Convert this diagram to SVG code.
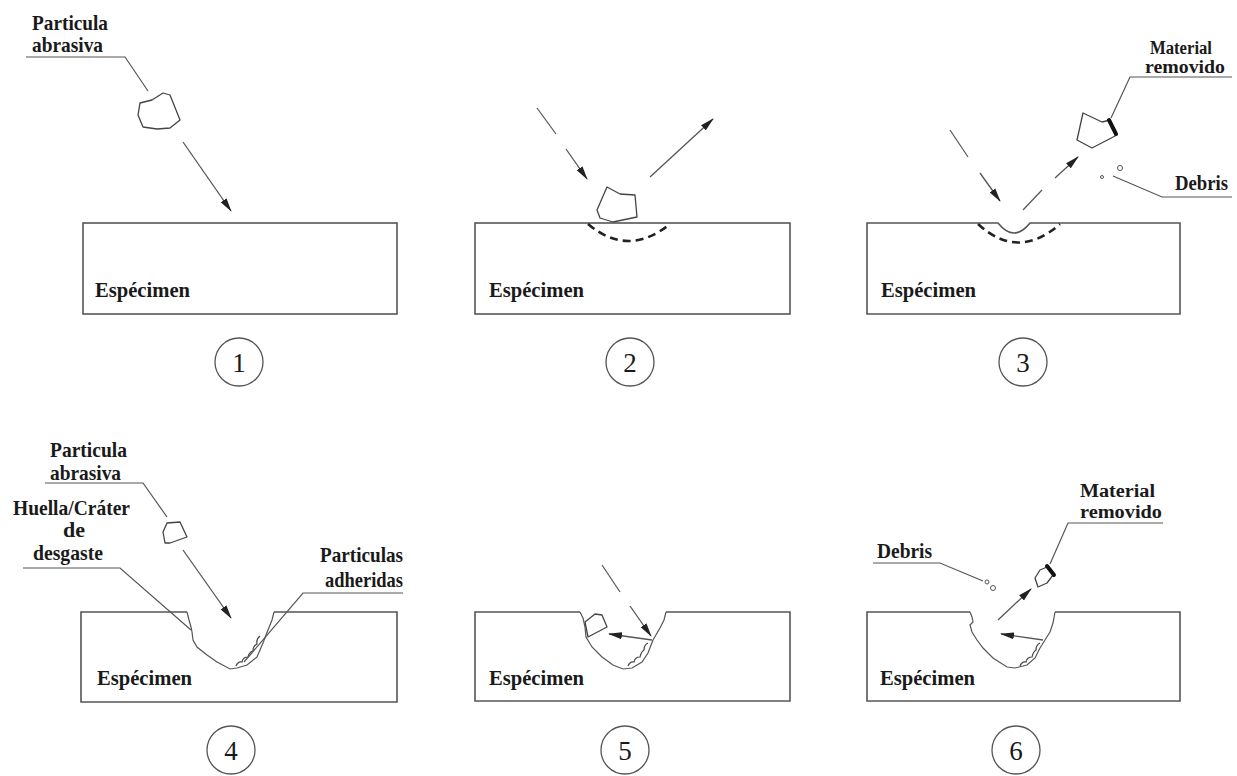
<svg xmlns="http://www.w3.org/2000/svg" width="1237" height="776" viewBox="0 0 1237 776">
  <defs>
    <marker id="head" markerUnits="userSpaceOnUse" markerWidth="14" markerHeight="8" viewBox="0 0 14 8" refX="13" refY="4" orient="auto">
      <path d="M0,0.5 L14,4 L0,7.5 Z" fill="#222"/>
    </marker>
  </defs>
  <style>
    .box { fill: none; stroke: #555; stroke-width: 1.6; }
    .ln { fill: none; stroke: #555; stroke-width: 1.2; }
    .thin { fill: none; stroke: #555; stroke-width: 1; }
    .bump { fill: none; stroke: #444; stroke-width: 1.2; }
    .arr { fill: none; stroke: #555; stroke-width: 1.3; marker-end: url(#head); }
    .part { fill: #fff; stroke: #444; stroke-width: 1.3; stroke-linejoin: round; }
    .zone { fill: none; stroke: #222; stroke-width: 2.6; stroke-dasharray: 8 5; }
    .chip { fill: none; stroke: #111; stroke-width: 4; stroke-linecap: round; }
    .lbl { font-family: "Liberation Serif", "Times New Roman", serif; font-weight: bold; font-size: 21px; fill: #1a1a1a; }
    .lbs { font-family: "Liberation Serif", "Times New Roman", serif; font-weight: bold; font-size: 18px; fill: #1a1a1a; }
    .spec { font-family: "Liberation Serif", "Times New Roman", serif; font-weight: bold; font-size: 20px; fill: #1a1a1a; }
    .num { font-family: "Liberation Serif", "Times New Roman", serif; font-size: 27px; fill: #1a1a1a; text-anchor: middle; }
    .ring { fill: none; stroke: #555; stroke-width: 1.3; }
  </style>

  <!-- Stage 1: particle approaching the surface -->
  <g id="stage1">
    <rect class="box" x="83" y="223" width="314" height="91"/>
    <text class="spec" x="95" y="297" textLength="95" lengthAdjust="spacingAndGlyphs">Espécimen</text>
    <text class="lbl" x="32" y="30" textLength="76" lengthAdjust="spacingAndGlyphs">Particula</text>
    <text class="lbl" x="32" y="52" textLength="71" lengthAdjust="spacingAndGlyphs">abrasiva</text>
    <polyline class="ln" points="26,57 125,57 148,91"/>
    <polygon class="part" points="140,103 152,100 163,93 170,95 180,120 170,128 157,129 143,127 138,115"/>
    <circle class="ring" cx="239" cy="362" r="24"/>
    <text class="num" x="239" y="372">1</text>
  </g>

  <!-- Stage 2: impact and deformation zone -->
  <g id="stage2">
    <rect class="box" x="475" y="223" width="315" height="91"/>
    <text class="spec" x="489" y="297" textLength="95" lengthAdjust="spacingAndGlyphs">Espécimen</text>
    <path class="zone" d="M588,224 Q628,258 670,224"/>
    <polygon class="part" points="607,187 620,194 635,195 637,217 613,222 600,218 597,210"/>
    <circle class="ring" cx="630" cy="362" r="24"/>
    <text class="num" x="630" y="372">2</text>
  </g>

  <!-- Stage 3: material removal and debris -->
  <g id="stage3">
    <path class="box" d="M867,223 H998 Q1014,243 1030,223 H1180 V314 H867 Z"/>
    <text class="spec" x="881" y="297" textLength="95" lengthAdjust="spacingAndGlyphs">Espécimen</text>
    <path class="zone" d="M978,224 Q1018,261 1060,224"/>
    <polygon class="part" points="1083,113 1102,122 1110,120 1117,135 1092,148 1077,140"/>
    <path class="chip" d="M1109,120 L1116,134"/>
    <circle class="thin" cx="1120" cy="168" r="2.5"/>
    <circle class="thin" cx="1102" cy="177" r="1.5"/>
    <text class="lbs" x="1150" y="54" textLength="62" lengthAdjust="spacingAndGlyphs">Material</text>
    <text class="lbs" x="1145" y="73" textLength="80" lengthAdjust="spacingAndGlyphs">removido</text>
    <polyline class="ln" points="1111,118 1130,77 1232,77"/>
    <text class="lbl" x="1175" y="190" textLength="53" lengthAdjust="spacingAndGlyphs">Debris</text>
    <polyline class="ln" points="1113,176 1162,197 1232,197"/>
    <circle class="ring" cx="1023" cy="362" r="24"/>
    <text class="num" x="1023" y="372">3</text>
  </g>

  <!-- Stage 4: wear crater with adhered particles -->
  <g id="stage4">
    <path class="box" d="M187,612 H81 V702 H397 V612 H274"/>
    <path class="ln" d="M187,612 L189,620 L191,627 L192,632 L193,640 L197,647 L207,655 L217,662 L230,669 L237,668 L247,665 L257,657 L263,643 L268,630 L272,620 L274,612"/>
    <path class="bump" d="M236,666 q2,-5 6,-4 q1,-5 6,-5 q1,-5 5,-6 q0,-5 4,-7 q-1,-5 3,-8"/>
    <text class="spec" x="97" y="685" textLength="95" lengthAdjust="spacingAndGlyphs">Espécimen</text>
    <text class="lbl" x="50" y="457" textLength="77" lengthAdjust="spacingAndGlyphs">Particula</text>
    <text class="lbl" x="50" y="480" textLength="71" lengthAdjust="spacingAndGlyphs">abrasiva</text>
    <polyline class="ln" points="45,483 143,483 167,517"/>
    <polygon class="part" points="163,532 167,523 180,522 187,537 170,543 165,543"/>
    <text class="lbl" x="13" y="515" textLength="117" lengthAdjust="spacingAndGlyphs">Huella/Cráter</text>
    <text class="lbl" x="63" y="537" textLength="22" lengthAdjust="spacingAndGlyphs">de</text>
    <text class="lbl" x="33" y="560" textLength="70" lengthAdjust="spacingAndGlyphs">desgaste</text>
    <polyline class="ln" points="23,568 120,568 191,630"/>
    <text class="lbl" x="320" y="562" textLength="83" lengthAdjust="spacingAndGlyphs">Particulas</text>
    <text class="lbl" x="325" y="587" textLength="78" lengthAdjust="spacingAndGlyphs">adheridas</text>
    <polyline class="ln" points="403,593 303,593 244,662"/>
    <circle class="ring" cx="231" cy="750" r="24"/>
    <text class="num" x="231" y="760">4</text>
  </g>

  <!-- Stage 5: particle trapped in the crater -->
  <g id="stage5">
    <path class="box" d="M580,612 H475 V701 H790 V612 H666"/>
    <path class="ln" d="M580,612 L583,618 L585,627 L586,637 L592,647 L602,657 L613,665 L623,669 L632,668 L642,662 L648,653 L653,640 L660,628 L664,620 L666,612"/>
    <path class="bump" d="M628,666 q2,-5 6,-4 q1,-5 6,-5 q1,-5 4,-7 q0,-5 4,-7"/>
    <polygon class="part" points="585,622 595,614 602,615 607,627 588,637"/>
    <text class="spec" x="489" y="685" textLength="95" lengthAdjust="spacingAndGlyphs">Espécimen</text>
    <circle class="ring" cx="625" cy="750" r="24"/>
    <text class="num" x="625" y="760">5</text>
  </g>

  <!-- Stage 6: removed material leaves the crater -->
  <g id="stage6">
    <path class="box" d="M970,612 H867 V701 H1180 V612 H1055"/>
    <path class="ln" d="M970,612 L972,617 L973,622 L970,625 L972,632 L977,640 L983,648 L993,658 L1007,667 L1015,668 L1027,665 L1035,658 L1040,648 L1045,640 L1050,632 L1053,623 L1055,612"/>
    <path class="bump" d="M1020,666 q2,-5 6,-4 q1,-5 6,-5 q1,-5 4,-7 q0,-5 4,-7"/>
    <polygon class="part" points="1035,578 1040,570 1047,567 1053,575 1047,583 1038,587"/>
    <path class="chip" d="M1047,566 L1054,575"/>
    <circle class="thin" cx="987" cy="582" r="2"/>
    <circle class="thin" cx="993" cy="588" r="2.5"/>
    <text class="spec" x="880" y="685" textLength="95" lengthAdjust="spacingAndGlyphs">Espécimen</text>
    <text class="lbs" x="1080" y="497" textLength="75" lengthAdjust="spacingAndGlyphs">Material</text>
    <text class="lbs" x="1080" y="518" textLength="82" lengthAdjust="spacingAndGlyphs">removido</text>
    <polyline class="ln" points="1050,564 1068,523 1163,523"/>
    <text class="lbl" x="877" y="558" textLength="55" lengthAdjust="spacingAndGlyphs">Debris</text>
    <polyline class="ln" points="873,563 940,563 983,581"/>
    <circle class="ring" cx="1016" cy="750" r="24"/>
    <text class="num" x="1016" y="760">6</text>
  </g>

  <!-- Motion arrows -->
  <g id="connectors">
    <line class="arr" x1="183" y1="142" x2="231" y2="211"/>

    <line class="ln" x1="537" y1="108" x2="556" y2="134"/>
    <line class="arr" x1="566" y1="149" x2="587" y2="179"/>
    <line class="arr" x1="650" y1="177" x2="713" y2="119"/>

    <line class="ln" x1="950" y1="130" x2="968" y2="157"/>
    <line class="arr" x1="980" y1="173" x2="1000" y2="201"/>
    <line class="ln" x1="1023" y1="210" x2="1042" y2="190"/>
    <line class="arr" x1="1055" y1="178" x2="1078" y2="157"/>

    <line class="arr" x1="183" y1="550" x2="231" y2="618"/>

    <line class="ln" x1="602" y1="565" x2="620" y2="592"/>
    <line class="arr" x1="630" y1="606" x2="651" y2="636"/>
    <line class="arr" x1="652" y1="640" x2="609" y2="634"/>

    <line class="arr" x1="998" y1="620" x2="1031" y2="589"/>
    <line class="arr" x1="1043" y1="640" x2="1001" y2="634"/>
  </g>
</svg>
